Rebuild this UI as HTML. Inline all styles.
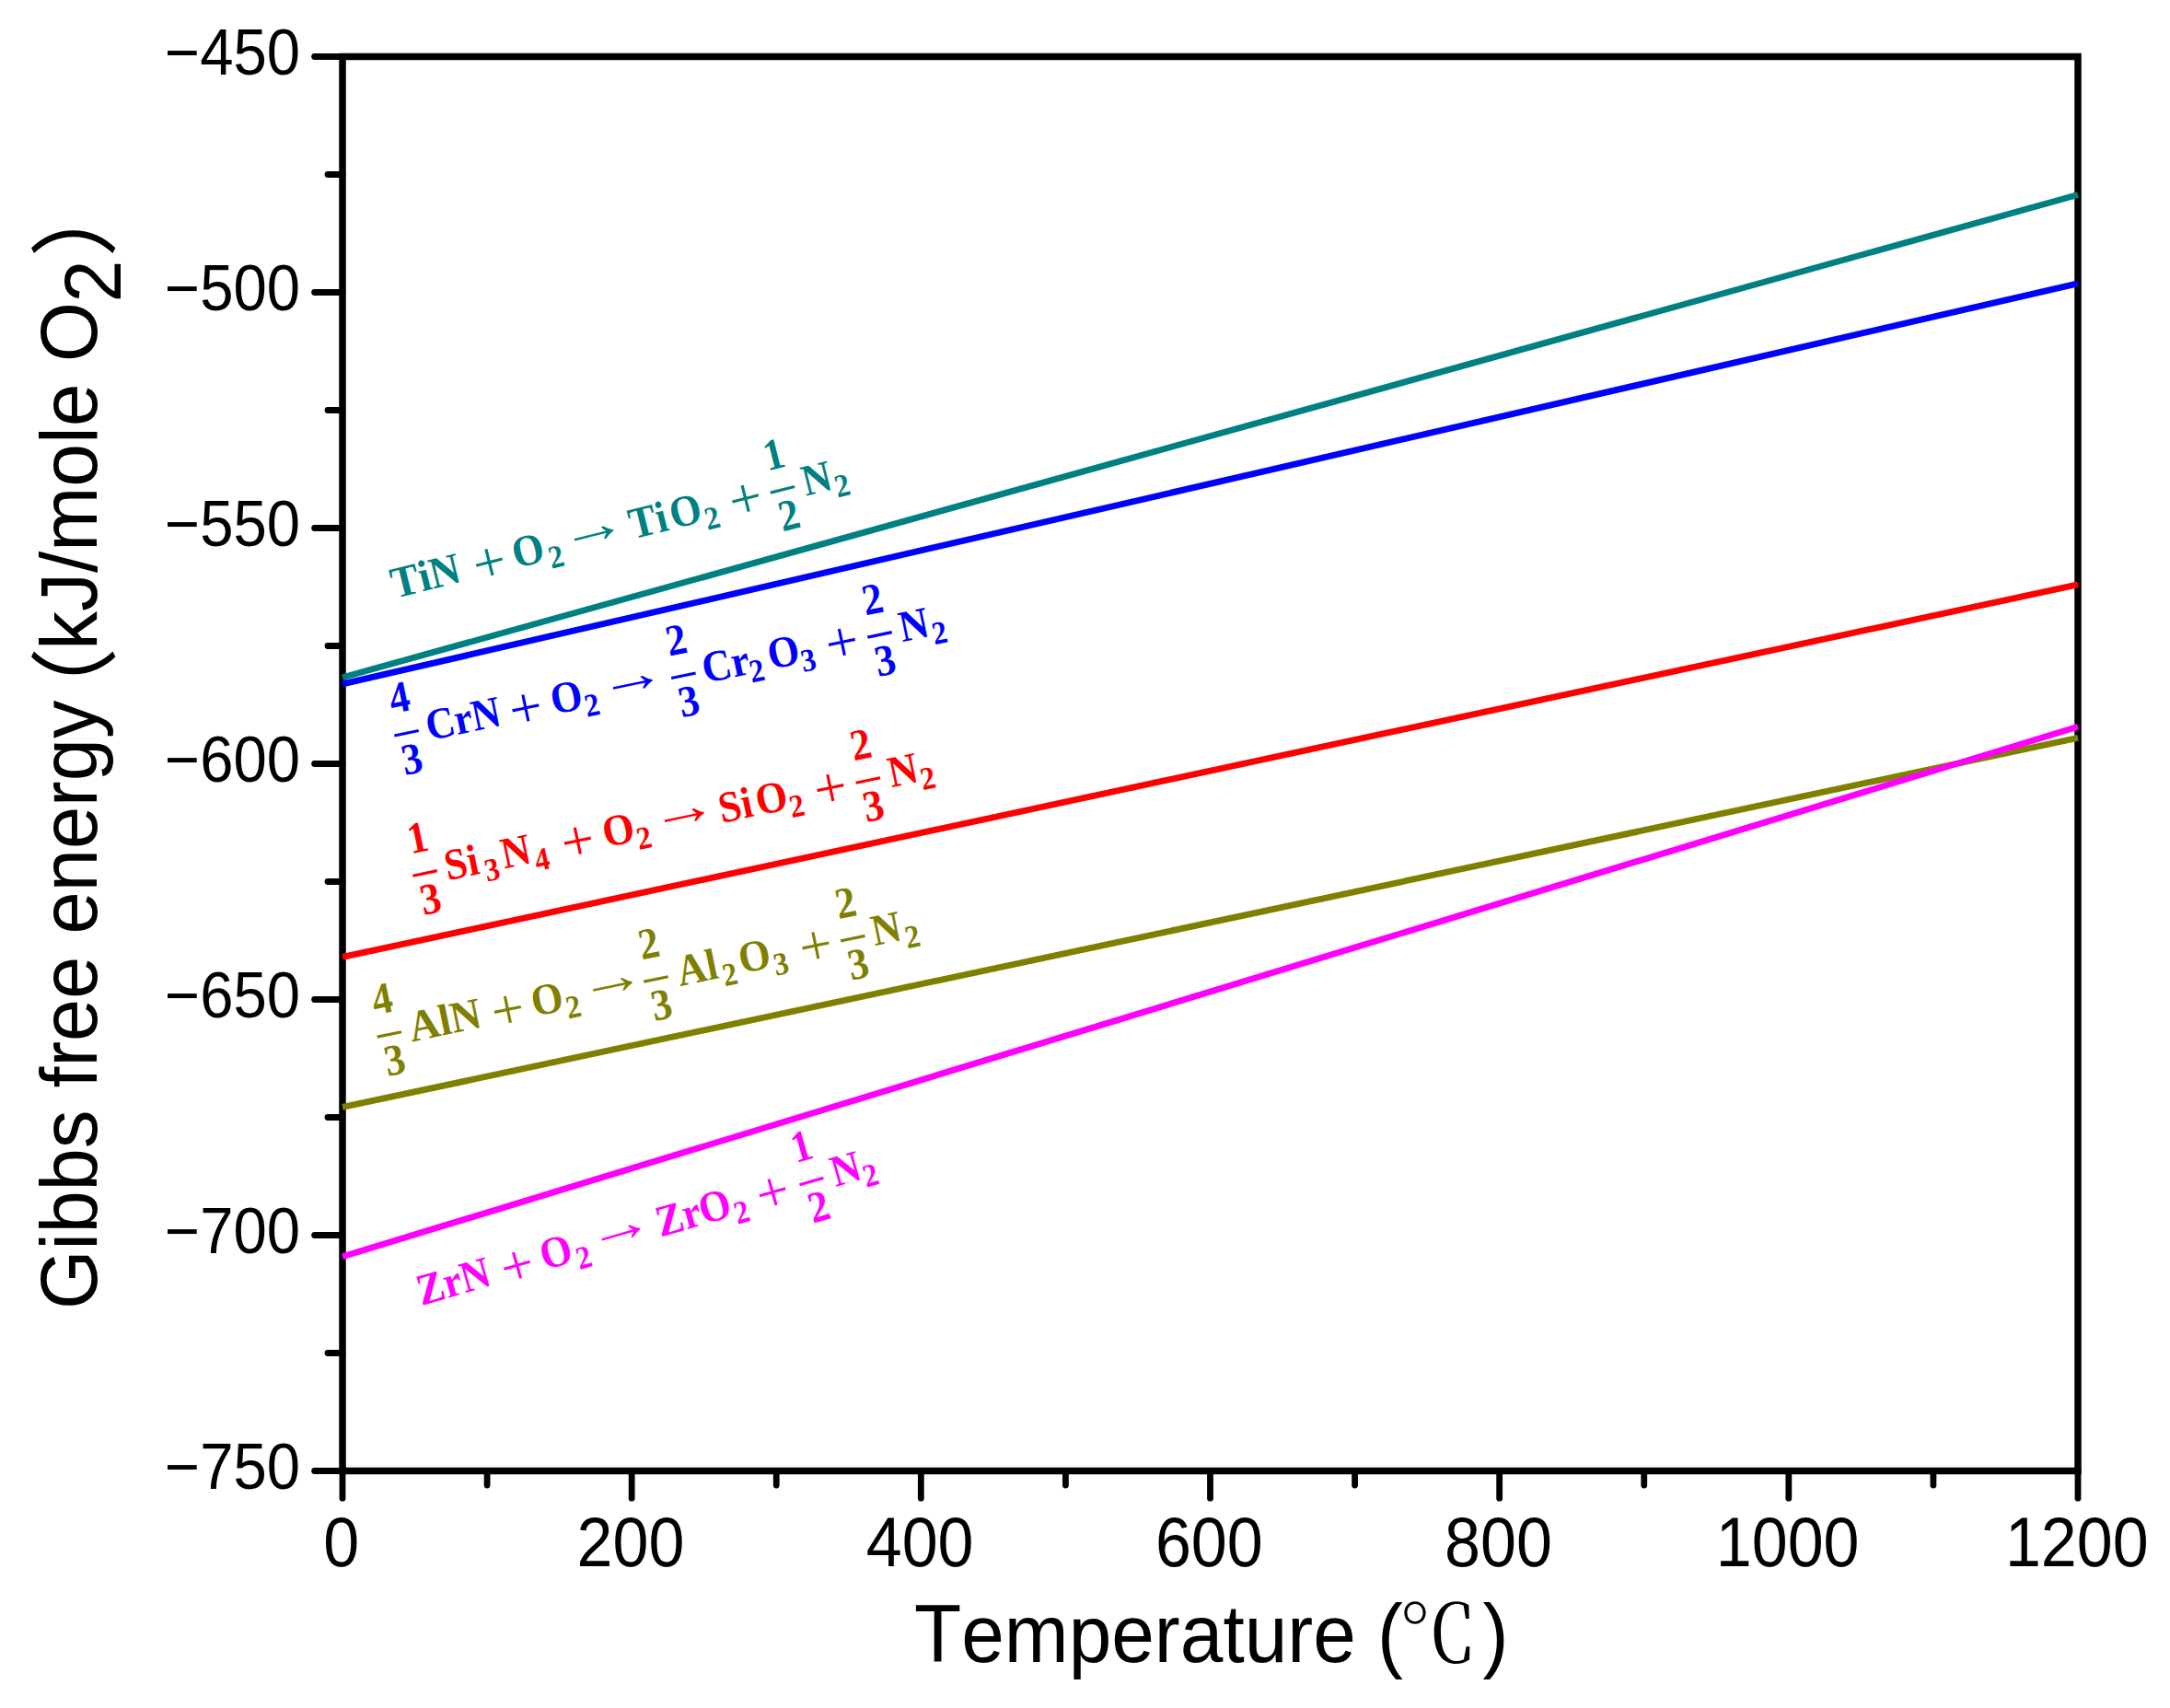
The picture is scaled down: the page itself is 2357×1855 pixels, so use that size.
<!DOCTYPE html>
<html lang="en"><head><meta charset="utf-8"><title>Gibbs free energy vs temperature</title>
<style>html,body{margin:0;padding:0;background:#fff;}svg{display:block;}.s{font-family:"Liberation Sans",sans-serif;fill:#000;font-kerning:none;}.c{font-family:"Noto Serif CJK SC","Liberation Serif",serif;}.p{font-family:"Noto Sans CJK SC","Liberation Sans",sans-serif;}.e{font-family:"Liberation Serif",serif;font-weight:bold;font-kerning:none;}.r{font-weight:normal;}</style></head><body>
<svg width="2357" height="1855" viewBox="0 0 2357 1855">
<rect x="0" y="0" width="2357" height="1855" fill="#fff"/>
<g stroke="#000" stroke-width="7.5" fill="none" stroke-linecap="butt">
<rect x="372.0" y="61.5" width="1885.0" height="1536.0"/>
</g>
<g stroke="#000" stroke-width="6.8" fill="none" stroke-linecap="round">
<line x1="341.6" y1="61.50" x2="372.0" y2="61.50"/>
<line x1="356.0" y1="189.50" x2="372.0" y2="189.50"/>
<line x1="341.6" y1="317.50" x2="372.0" y2="317.50"/>
<line x1="356.0" y1="445.50" x2="372.0" y2="445.50"/>
<line x1="341.6" y1="573.50" x2="372.0" y2="573.50"/>
<line x1="356.0" y1="701.50" x2="372.0" y2="701.50"/>
<line x1="341.6" y1="829.50" x2="372.0" y2="829.50"/>
<line x1="356.0" y1="957.50" x2="372.0" y2="957.50"/>
<line x1="341.6" y1="1085.50" x2="372.0" y2="1085.50"/>
<line x1="356.0" y1="1213.50" x2="372.0" y2="1213.50"/>
<line x1="341.6" y1="1341.50" x2="372.0" y2="1341.50"/>
<line x1="356.0" y1="1469.50" x2="372.0" y2="1469.50"/>
<line x1="341.6" y1="1597.50" x2="372.0" y2="1597.50"/>
<line x1="372.00" y1="1597.5" x2="372.00" y2="1627.2"/>
<line x1="529.08" y1="1597.5" x2="529.08" y2="1613.0"/>
<line x1="686.17" y1="1597.5" x2="686.17" y2="1627.2"/>
<line x1="843.25" y1="1597.5" x2="843.25" y2="1613.0"/>
<line x1="1000.33" y1="1597.5" x2="1000.33" y2="1627.2"/>
<line x1="1157.42" y1="1597.5" x2="1157.42" y2="1613.0"/>
<line x1="1314.50" y1="1597.5" x2="1314.50" y2="1627.2"/>
<line x1="1471.58" y1="1597.5" x2="1471.58" y2="1613.0"/>
<line x1="1628.67" y1="1597.5" x2="1628.67" y2="1627.2"/>
<line x1="1785.75" y1="1597.5" x2="1785.75" y2="1613.0"/>
<line x1="1942.83" y1="1597.5" x2="1942.83" y2="1627.2"/>
<line x1="2099.92" y1="1597.5" x2="2099.92" y2="1613.0"/>
<line x1="2257.00" y1="1597.5" x2="2257.00" y2="1627.2"/>
</g>
<g fill="none" stroke-width="6.9" stroke-linecap="butt">
<line x1="372.0" y1="735.80" x2="2257.0" y2="211.52" stroke="#008080"/>
<line x1="372.0" y1="742.97" x2="2257.0" y2="307.77" stroke="#0000ff"/>
<line x1="372.0" y1="1039.42" x2="2257.0" y2="634.94" stroke="#ff0000"/>
<line x1="372.0" y1="1202.49" x2="2257.0" y2="801.34" stroke="#808000"/>
<line x1="372.0" y1="1364.80" x2="2257.0" y2="789.31" stroke="#ff00ff"/>
</g>
<g class="s" font-size="69.8" text-anchor="end">
<text transform="translate(326,81.10) scale(0.935,1)">−450</text>
<text transform="translate(326,337.10) scale(0.935,1)">−500</text>
<text transform="translate(326,593.10) scale(0.935,1)">−550</text>
<text transform="translate(326,849.10) scale(0.935,1)">−600</text>
<text transform="translate(326,1105.10) scale(0.935,1)">−650</text>
<text transform="translate(326,1361.10) scale(0.935,1)">−700</text>
<text transform="translate(326,1617.10) scale(0.935,1)">−750</text>
</g>
<g class="s" font-size="75.2" text-anchor="middle">
<text transform="translate(370.80,1700.9) scale(0.931,1)">0</text>
<text transform="translate(684.97,1700.9) scale(0.931,1)">200</text>
<text transform="translate(999.13,1700.9) scale(0.931,1)">400</text>
<text transform="translate(1313.30,1700.9) scale(0.931,1)">600</text>
<text transform="translate(1627.47,1700.9) scale(0.931,1)">800</text>
<text transform="translate(1941.63,1700.9) scale(0.931,1)">1000</text>
<text transform="translate(2255.80,1700.9) scale(0.931,1)">1200</text>
</g>
<g class="s" font-size="89" transform="translate(993,1805) scale(0.942,1)"><text x="0" y="0">Temperature (</text></g>
<text class="c" font-size="85.5" x="1519" y="1805" fill="#000">℃</text>
<g class="s" font-size="89" transform="translate(1610.5,1805) scale(0.946,1)"><text x="0" y="0">)</text></g>
<g transform="translate(105,1417) rotate(-90)">
<g class="s" font-size="88" transform="translate(-5,0) scale(0.941,1)"><text x="0" y="0">Gibbs</text></g>
<g class="s" font-size="88" transform="translate(235.5,0) scale(0.941,1)"><text x="0" y="0">free</text></g>
<g class="s" font-size="88" transform="translate(402.5,0) scale(0.944,1)"><text x="0" y="0">energy</text></g>
<text class="p" font-size="96" x="618" y="10.7" fill="#000">（</text>
<g class="s" font-size="88" transform="translate(711,0) scale(0.955,1)"><text x="0" y="0">kJ/mole O</text></g>
<g class="s" font-size="88" transform="translate(1088.5,26) scale(0.941,1)"><text x="0" y="0">2</text></g>
<text class="p" font-size="96" x="1137.5" y="10.7" fill="#000">）</text>
</g>
<g class="e" fill="#008080" transform="translate(442.9,646.5) rotate(-14.0)">
<text transform="translate(-14.4,0.0) scale(0.953,1)" font-size="48.0" text-anchor="start">TiN</text>
<text class="r" transform="translate(94.5,7.6) scale(1.000,1)" font-size="63.0" text-anchor="middle">+</text>
<text transform="translate(138.3,0.0) scale(0.920,1)" font-size="48.0" text-anchor="middle">O</text>
<text transform="translate(166.5,10.0) scale(0.920,1)" font-size="35.0" text-anchor="middle">2</text>
<text class="r" transform="translate(212.1,-5.1) scale(1.270,1)" font-size="58.0" text-anchor="middle">→</text>
<text transform="translate(252.0,0.0) scale(0.920,1)" font-size="48.0" text-anchor="start">Ti</text>
<text transform="translate(314.5,0.0) scale(0.920,1)" font-size="48.0" text-anchor="middle">O</text>
<text transform="translate(341.0,10.0) scale(0.920,1)" font-size="35.0" text-anchor="middle">2</text>
<text class="r" transform="translate(381.2,7.6) scale(1.000,1)" font-size="63.0" text-anchor="middle">+</text>
<text transform="translate(422.7,-36.5) scale(0.920,1)" font-size="48.0" text-anchor="middle">1</text><text transform="translate(422.7,31.5) scale(0.920,1)" font-size="48.0" text-anchor="middle">2</text><rect x="409.2" y="-14.4" width="27.0" height="3.2"/>
<text transform="translate(461.5,0.0) scale(0.920,1)" font-size="48.0" text-anchor="middle">N</text>
<text transform="translate(486.6,10.0) scale(0.920,1)" font-size="35.0" text-anchor="middle">2</text>
</g>
<g class="e" fill="#0000ff" transform="translate(432.2,811.3) rotate(-11.75)">
<text transform="translate(12.2,-36.5) scale(0.920,1)" font-size="48.0" text-anchor="middle">4</text><text transform="translate(12.2,31.5) scale(0.920,1)" font-size="48.0" text-anchor="middle">3</text><rect x="-1.3" y="-14.4" width="27.0" height="3.2"/>
<text transform="translate(34.5,0.0) scale(0.905,1)" font-size="48.0" text-anchor="start">CrN</text>
<text class="r" transform="translate(144.3,7.6) scale(1.000,1)" font-size="63.0" text-anchor="middle">+</text>
<text transform="translate(190.0,0.0) scale(0.920,1)" font-size="48.0" text-anchor="middle">O</text>
<text transform="translate(215.6,10.0) scale(0.920,1)" font-size="35.0" text-anchor="middle">2</text>
<text class="r" transform="translate(263.7,-5.1) scale(1.270,1)" font-size="58.0" text-anchor="middle">→</text>
<text transform="translate(319.5,-36.5) scale(0.920,1)" font-size="48.0" text-anchor="middle">2</text><text transform="translate(319.5,31.5) scale(0.920,1)" font-size="48.0" text-anchor="middle">3</text><rect x="306.0" y="-14.4" width="27.0" height="3.2"/>
<text transform="translate(340.9,0.0) scale(0.920,1)" font-size="48.0" text-anchor="start">Cr</text>
<text transform="translate(398.6,10.0) scale(0.920,1)" font-size="35.0" text-anchor="middle">2</text>
<text transform="translate(430.9,0.0) scale(0.920,1)" font-size="48.0" text-anchor="middle">O</text>
<text transform="translate(455.6,10.0) scale(0.920,1)" font-size="35.0" text-anchor="middle">3</text>
<text class="r" transform="translate(495.2,7.6) scale(1.000,1)" font-size="63.0" text-anchor="middle">+</text>
<text transform="translate(537.2,-36.5) scale(0.920,1)" font-size="48.0" text-anchor="middle">2</text><text transform="translate(537.2,31.5) scale(0.920,1)" font-size="48.0" text-anchor="middle">3</text><rect x="523.7" y="-14.4" width="27.0" height="3.2"/>
<text transform="translate(575.6,0.0) scale(0.920,1)" font-size="48.0" text-anchor="middle">N</text>
<text transform="translate(601.3,10.0) scale(0.920,1)" font-size="35.0" text-anchor="middle">2</text>
</g>
<g class="e" fill="#ff0000" transform="translate(452.2,963.5) rotate(-11.85)">
<text transform="translate(12.3,-36.5) scale(0.920,1)" font-size="48.0" text-anchor="middle">1</text><text transform="translate(12.3,31.5) scale(0.920,1)" font-size="48.0" text-anchor="middle">3</text><rect x="-1.2" y="-14.4" width="27.0" height="3.2"/>
<text transform="translate(34.9,0.0) scale(0.920,1)" font-size="48.0" text-anchor="start">Si</text>
<text transform="translate(84.5,10.0) scale(0.920,1)" font-size="35.0" text-anchor="middle">3</text>
<text transform="translate(113.7,0.0) scale(0.920,1)" font-size="48.0" text-anchor="middle">N</text>
<text transform="translate(139.8,10.0) scale(0.920,1)" font-size="35.0" text-anchor="middle">4</text>
<text class="r" transform="translate(181.8,7.6) scale(1.000,1)" font-size="63.0" text-anchor="middle">+</text>
<text transform="translate(227.5,0.0) scale(0.920,1)" font-size="48.0" text-anchor="middle">O</text>
<text transform="translate(253.0,10.0) scale(0.920,1)" font-size="35.0" text-anchor="middle">2</text>
<text class="r" transform="translate(300.6,-5.1) scale(1.270,1)" font-size="58.0" text-anchor="middle">→</text>
<text transform="translate(339.0,0.0) scale(0.920,1)" font-size="48.0" text-anchor="start">Si</text>
<text transform="translate(397.3,0.0) scale(0.920,1)" font-size="48.0" text-anchor="middle">O</text>
<text transform="translate(422.7,10.0) scale(0.920,1)" font-size="35.0" text-anchor="middle">2</text>
<text class="r" transform="translate(462.3,7.6) scale(1.000,1)" font-size="63.0" text-anchor="middle">+</text>
<text transform="translate(504.0,-36.5) scale(0.920,1)" font-size="48.0" text-anchor="middle">2</text><text transform="translate(504.0,31.5) scale(0.920,1)" font-size="48.0" text-anchor="middle">3</text><rect x="490.5" y="-14.4" width="27.0" height="3.2"/>
<text transform="translate(543.2,0.0) scale(0.920,1)" font-size="48.0" text-anchor="middle">N</text>
<text transform="translate(568.1,10.0) scale(0.920,1)" font-size="35.0" text-anchor="middle">2</text>
</g>
<g class="e" fill="#808000" transform="translate(413.2,1138.5) rotate(-11.7)">
<text transform="translate(12.5,-36.5) scale(0.920,1)" font-size="48.0" text-anchor="middle">4</text><text transform="translate(12.5,31.5) scale(0.920,1)" font-size="48.0" text-anchor="middle">3</text><rect x="-1.0" y="-14.4" width="27.0" height="3.2"/>
<text transform="translate(35.0,0.0) scale(0.960,1)" font-size="48.0" text-anchor="start">AlN</text>
<text class="r" transform="translate(143.8,7.6) scale(1.000,1)" font-size="63.0" text-anchor="middle">+</text>
<text transform="translate(187.9,0.0) scale(0.920,1)" font-size="48.0" text-anchor="middle">O</text>
<text transform="translate(214.3,10.0) scale(0.920,1)" font-size="35.0" text-anchor="middle">2</text>
<text class="r" transform="translate(260.7,-5.1) scale(1.270,1)" font-size="58.0" text-anchor="middle">→</text>
<text transform="translate(308.3,-36.5) scale(0.920,1)" font-size="48.0" text-anchor="middle">2</text><text transform="translate(308.3,31.5) scale(0.920,1)" font-size="48.0" text-anchor="middle">3</text><rect x="294.8" y="-14.4" width="27.0" height="3.2"/>
<text transform="translate(332.5,0.0) scale(0.920,1)" font-size="48.0" text-anchor="start">Al</text>
<text transform="translate(388.0,10.0) scale(0.920,1)" font-size="35.0" text-anchor="middle">2</text>
<text transform="translate(418.1,0.0) scale(0.920,1)" font-size="48.0" text-anchor="middle">O</text>
<text transform="translate(444.6,10.0) scale(0.920,1)" font-size="35.0" text-anchor="middle">3</text>
<text class="r" transform="translate(485.4,7.6) scale(1.000,1)" font-size="63.0" text-anchor="middle">+</text>
<text transform="translate(526.6,-36.5) scale(0.920,1)" font-size="48.0" text-anchor="middle">2</text><text transform="translate(526.6,31.5) scale(0.920,1)" font-size="48.0" text-anchor="middle">3</text><rect x="513.1" y="-14.4" width="27.0" height="3.2"/>
<text transform="translate(564.1,0.0) scale(0.920,1)" font-size="48.0" text-anchor="middle">N</text>
<text transform="translate(590.5,10.0) scale(0.920,1)" font-size="35.0" text-anchor="middle">2</text>
</g>
<g class="e" fill="#ff00ff" transform="translate(458.8,1417.6) rotate(-16.0)">
<text transform="translate(-1.0,0.0) scale(0.920,1)" font-size="48.0" text-anchor="start">ZrN</text>
<text class="r" transform="translate(110.8,7.6) scale(1.000,1)" font-size="63.0" text-anchor="middle">+</text>
<text transform="translate(155.3,0.0) scale(0.920,1)" font-size="48.0" text-anchor="middle">O</text>
<text transform="translate(182.7,10.0) scale(0.920,1)" font-size="35.0" text-anchor="middle">2</text>
<text class="r" transform="translate(228.5,-5.1) scale(1.270,1)" font-size="58.0" text-anchor="middle">→</text>
<text transform="translate(269.0,0.0) scale(0.920,1)" font-size="48.0" text-anchor="start">Zr</text>
<text transform="translate(334.8,0.0) scale(0.920,1)" font-size="48.0" text-anchor="middle">O</text>
<text transform="translate(361.3,10.0) scale(0.920,1)" font-size="35.0" text-anchor="middle">2</text>
<text class="r" transform="translate(399.3,7.6) scale(1.000,1)" font-size="63.0" text-anchor="middle">+</text>
<text transform="translate(443.3,-36.5) scale(0.920,1)" font-size="48.0" text-anchor="middle">1</text><text transform="translate(443.3,31.5) scale(0.920,1)" font-size="48.0" text-anchor="middle">2</text><rect x="429.8" y="-14.4" width="27.0" height="3.2"/>
<text transform="translate(482.7,0.0) scale(0.920,1)" font-size="48.0" text-anchor="middle">N</text>
<text transform="translate(506.9,10.0) scale(0.920,1)" font-size="35.0" text-anchor="middle">2</text>
</g>
</svg></body></html>
